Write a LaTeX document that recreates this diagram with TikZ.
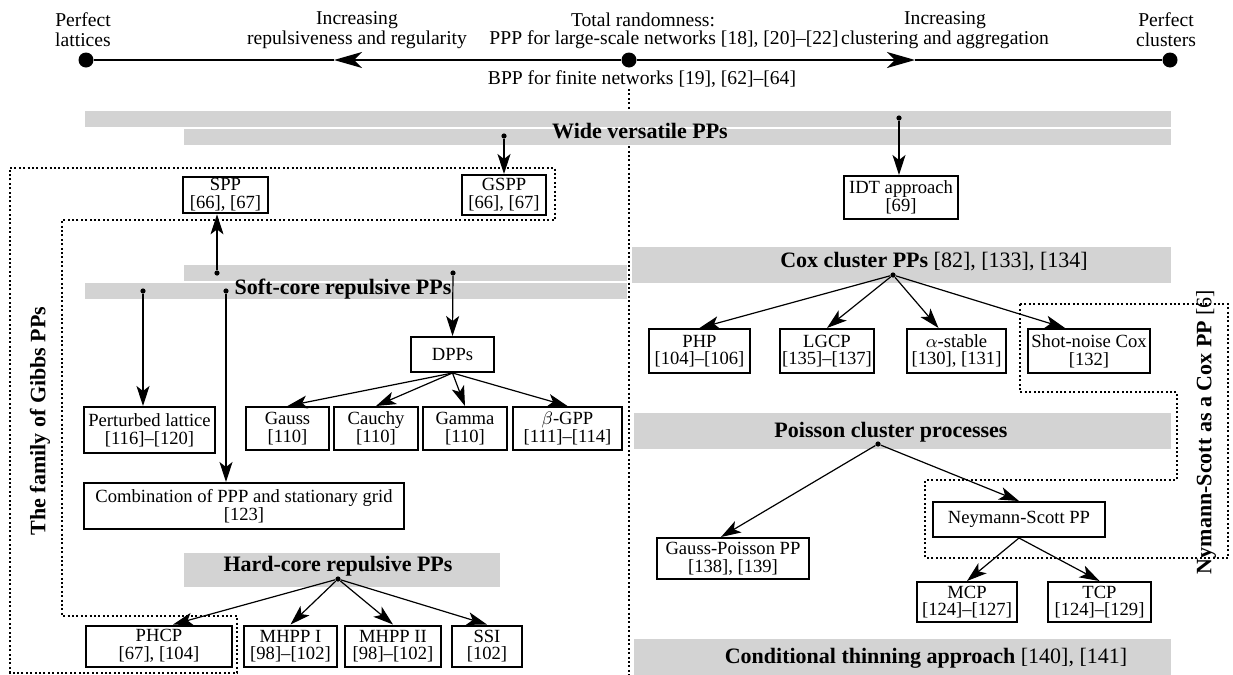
\documentclass[tikz,border=0pt]{standalone}
\usepackage{fontspec}
\setmainfont{Liberation Serif}
\usetikzlibrary{arrows.meta}
\definecolor{bargray}{RGB}{211,211,211}

\begin{document}
\begin{tikzpicture}[x=0.5pt, y=-0.5pt,
    font=\fontsize{9.8}{10}\selectfont,
    box/.style={draw, line width=1pt, align=center, inner sep=1pt, font=\fontsize{9.3}{8.8}\selectfont},
    bartext/.style={font=\fontsize{11}{12}\selectfont\bfseries},
    reftext/.style={font=\fontsize{11}{12}\selectfont},
    jdot/.style={circle, fill, inner sep=0pt, minimum size=2.6pt},
    enddot/.style={circle, fill, inner sep=0pt, minimum size=7.5pt},
    conn/.style={-{Stealth[length=10pt, width=6.5pt, inset=2.5pt]}, line width=0.6pt},
    axisarrow/.style={-{Stealth[length=14pt, width=8pt, inset=4pt]}, line width=0.9pt},
    fence/.style={line width=1pt, dash pattern=on 1pt off 1.2pt}]
    \useasboundingbox (0,0) rectangle (1233,675);

    % Randomness scale
    \node[enddot] (lat) at (86,60) {};
    \node[enddot] (rnd) at (629,60) {};
    \node[enddot] (clu) at (1170,60) {};
    \coordinate (lmid) at (334,60);
    \coordinate (rmid) at (915,60);
    \draw[axisarrow] (rnd) -- (lmid);
    \draw[line width=0.9pt] (lmid) -- (lat);
    \draw[axisarrow] (rnd) -- (rmid);
    \draw[line width=0.9pt] (rmid) -- (clu);
    \node[align=center] (perlat) at (83,30) {Perfect\\lattices};
    \node[align=center] (increp) at (357,30) {Increasing\\repulsiveness and regularity};
    \node (total) at (643,20) {Total randomness:};
    \node (ppp) at (664,40) {PPP for large-scale networks [18], [20]--[22]};
    \node (bpp) at (642,79) {BPP for finite networks [19], [62]--[64]};
    \node[align=center] (incclu) at (945,30) {Increasing\\clustering and aggregation};
    \node[align=center] (perclu) at (1166,30) {Perfect\\clusters};

    % Separator and groups
    \draw[fence] (629,89) -- (629,675);
    \draw[fence] (10,168) -- (555,168) -- (555,220) -- (62,220) -- (62,616) -- (237,616) -- (237,673) -- (10,673) -- cycle; % Gibbs
    \draw[fence] (1020,304) -- (1228,304) -- (1228,558) -- (925,558) -- (925,480) -- (1177,480) -- (1177,392) -- (1020,392) -- cycle; % Neyman-Scott
    \node[bartext, rotate=90] (gibbs) at (40,421) {The family of Gibbs PPs};
    \node[reftext, rotate=90] (nymann) at (1206,432) {\textbf{Nymann-Scott as a Cox PP} [6]};

    % Grey bars
    \fill[bargray] (85,111) rectangle (1171,127);
    \fill[bargray] (184,129) rectangle (1171,145);
    \fill[bargray] (184,265) rectangle (627,281);
    \fill[bargray] (85,283) rectangle (627,299);
    \fill[bargray] (184,553) rectangle (500,587);
    \fill[bargray] (632,247) rectangle (1171,283);
    \fill[bargray] (634,413) rectangle (1171,449);
    \fill[bargray] (634,639) rectangle (1171,675);
    \node[bartext] (wide) at (640,131) {Wide versatile PPs};
    \node[bartext] (soft) at (343,289) {Soft-core repulsive PPs};
    \node[bartext] (hard) at (338,566) {Hard-core repulsive PPs};
    \node[reftext] (cox) at (934,262) {\textbf{Cox cluster PPs} [82], [133], [134]};
    \node[bartext] (pois) at (891,432) {Poisson cluster processes};
    \node[reftext] (cond) at (926,658) {\textbf{Conditional thinning approach} [140], [141]};

    % Left part
    \node[box, minimum width=42.5pt, minimum height=18pt] (spp) at (225.5,195) {SPP\\{[66], [67]}};
    \node[box, minimum width=42pt, minimum height=20pt] (gspp) at (504,195) {GSPP\\{[66], [67]}};
    \node[box, minimum width=41.5pt, minimum height=17.5pt] (dpps) at (452.5,354.5) {DPPs};
    \node[box, minimum width=65.5pt, minimum height=23pt] (pert) at (149.5,430) {Perturbed lattice\\{[116]--[120]}};
    \node[box, minimum width=41.5pt, minimum height=21.5pt] (gauss) at (287.5,428.5) {Gauss\\{[110]}};
    \node[box, minimum width=42pt, minimum height=21.5pt] (cauchy) at (376,428.5) {Cauchy\\{[110]}};
    \node[box, minimum width=42pt, minimum height=21.5pt] (gamma) at (465,428.5) {Gamma\\{[110]}};
    \node[box, minimum width=54.5pt, minimum height=21.5pt] (bgpp) at (567.5,428.5) {$\beta$-GPP\\{[111]--[114]}};
    \node[box, minimum width=160pt, minimum height=23pt] (comb) at (244,506) {Combination of PPP and stationary grid\\{[123]}};
    \node[box, minimum width=73pt, minimum height=20.5pt] (phcp) at (159,646) {PHCP\\{[67], [104]}};
    \node[box, minimum width=46.5pt, minimum height=20.5pt] (mhpp1) at (290.5,646) {MHPP I\\{[98]--[102]}};
    \node[box, minimum width=48pt, minimum height=20.5pt] (mhpp2) at (393,646) {MHPP II\\{[98]--[102]}};
    \node[box, minimum width=35pt, minimum height=20.5pt] (ssi) at (487,646) {SSI\\{[102]}};

    % Right part
    \node[box, minimum width=57pt, minimum height=21.5pt] (idt) at (901,197.5) {IDT approach\\{[69]}};
    \node[box, minimum width=50.5pt, minimum height=22pt] (php) at (699.5,351) {PHP\\{[104]--[106]}};
    \node[box, minimum width=47pt, minimum height=22pt] (lgcp) at (827,351) {LGCP\\{[135]--[137]}};
    \node[box, minimum width=49.5pt, minimum height=22pt] (alpha) at (956.5,351) {$\alpha$-stable\\{[130], [131]}};
    \node[box, minimum width=61pt, minimum height=22pt] (shot) at (1089,351) {Shot-noise Cox\\{[132]}};
    \node[box, minimum width=86pt, minimum height=17.5pt] (neym) at (1019,519.5) {Neymann-Scott PP};
    \node[box, minimum width=76pt, minimum height=20.5pt] (gpois) at (733,558.5) {Gauss-Poisson PP\\{[138], [139]}};
    \node[box, minimum width=50pt, minimum height=20pt] (mcp) at (967,602) {MCP\\{[124]--[127]}};
    \node[box, minimum width=51.5pt, minimum height=20pt] (tcp) at (1099.5,602) {TCP\\{[124]--[129]}};

    % Junctions on the bars
    \node[jdot] (wideA) at (504,136) {};
    \node[jdot] (wideB) at (899,118) {};
    \node[jdot] (softA) at (217,273) {};
    \node[jdot] (softB) at (453,273) {};
    \node[jdot] (softC) at (143,291) {};
    \node[jdot] (softD) at (226,291) {};
    \node[jdot] (hardJ) at (338,579) {};
    \node[jdot] (coxJ) at (893,275) {};
    \node[jdot] (poisJ) at (878,444) {};

    % Arrows
    \draw[conn] (wideA) -- (gspp.north);
    \draw[conn] (wideB) -- (wideB |- idt.north);
    \draw[conn] (softA) -- (softA |- spp.south);
    \draw[conn] (softB) -- (dpps.north);
    \draw[conn] (softC) -- (softC |- pert.north);
    \draw[conn] (softD) -- (softD |- comb.north);
    \foreach \n in {gauss, cauchy, gamma, bgpp}
        \draw[conn] (dpps.south) -- (\n.north);
    \draw[conn] (hardJ) -- ([xshift=7pt]phcp.north);
    \foreach \n in {mhpp1, mhpp2, ssi}
        \draw[conn] (hardJ) -- (\n.north);
    \draw[conn] (coxJ) -- (php.north);
    \draw[conn] (coxJ) -- (lgcp.north);
    \draw[conn] (coxJ) -- ([xshift=-9pt]alpha.north);
    \draw[conn] (coxJ) -- ([xshift=-12pt]shot.north);
    \draw[conn] (poisJ) -- ([xshift=-6pt]gpois.north);
    \draw[conn] (poisJ) -- (neym.north);
    \draw[conn] (neym.south) -- (mcp.north);
    \draw[conn] (neym.south) -- (tcp.north);
\end{tikzpicture}
\end{document}
